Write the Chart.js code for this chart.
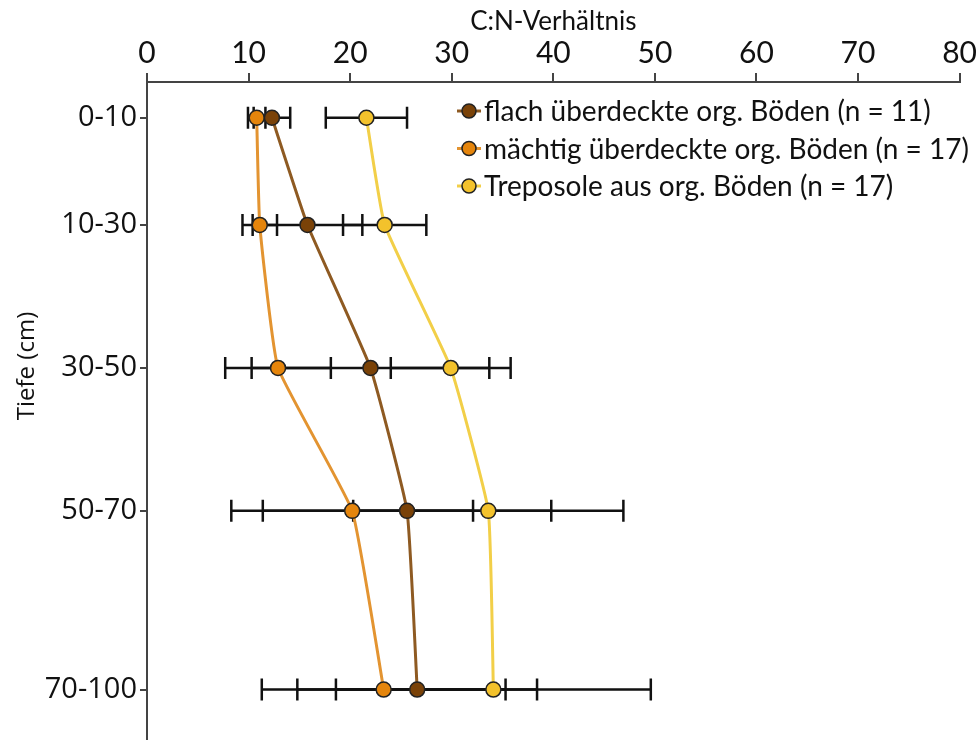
<!DOCTYPE html>
<html>
<head>
<meta charset="utf-8">
<script src="https://cdn.jsdelivr.net/npm/chart.js@4/dist/chart.umd.min.js"></script>
<style>
  html,body{margin:0;padding:0;background:#fff;overflow:hidden;}
  canvas{display:block;}
</style>
</head>
<body>
<canvas id="chart" width="979" height="740"></canvas>
<script>
// depth classes, drawn at their mid depth (cm)
const depthLabels = ['0-10', '10-30', '30-50', '50-70', '70-100'];
const depthMid = [5, 20, 40, 60, 85];
const xTicks = [0, 10, 20, 30, 40, 50, 60, 70, 80];

const flachCN = [12.3, 15.8, 22.0, 25.6, 26.6];
const flachErr = [1.8, 5.4, 11.7, 14.2, 11.8];
const maechtigCN = [10.8, 11.1, 12.9, 20.2, 23.3];
const maechtigErr = [0.86, 1.7, 5.2, 11.9, 12.0];
const trepoCN = [21.6, 23.4, 29.9, 33.6, 34.1];
const trepoErr = [4.0, 4.1, 5.9, 13.3, 15.5];

const names = ['flach überdeckte org. Böden (n = 11)', 'mächtig überdeckte org. Böden (n = 17)', 'Treposole aus org. Böden (n = 17)'];
const fills = ['#7a4208', '#e5850c', '#f3c22c'];
const lineCols = ['#8e5a22', '#e39431', '#f2cf48'];

const toPts = vals => vals.map((v, i) => ({x: v, y: depthMid[i]}));
const errs = [flachErr, maechtigErr, trepoErr];

const mkSet = (i, vals) => ({
  label: names[i], data: toPts(vals),
  borderColor: lineCols[i], backgroundColor: fills[i],
  borderWidth: 3, tension: 0.12,
  pointRadius: 7.5, pointBorderColor: '#222', pointBorderWidth: 1.5,
  pointBackgroundColor: fills[i]
});

// error bars under the lines and points
const errorBars = {
  id: 'errorBars',
  beforeDatasetsDraw(chart){
    const {ctx, scales:{x, y}} = chart;
    ctx.save();
    ctx.strokeStyle = '#111'; ctx.lineWidth = 2.5;
    chart.data.datasets.forEach((ds, di) => {
      ds.data.forEach((p, i) => {
        const e = errs[di][i];
        const x1 = x.getPixelForValue(p.x - e), x2 = x.getPixelForValue(p.x + e);
        const py = y.getPixelForValue(p.y);
        ctx.beginPath();
        ctx.moveTo(x1, py); ctx.lineTo(x2, py);
        ctx.moveTo(x1, py - 11); ctx.lineTo(x1, py + 11);
        ctx.moveTo(x2, py - 11); ctx.lineTo(x2, py + 11);
        ctx.stroke();
      });
    });
    ctx.restore();
  }
};

// legend inside the plot, top right; y axis title sits above the axis centre
const innerLegend = {
  id: 'innerLegend',
  afterDraw(chart){
    const {ctx, chartArea} = chart;
    ctx.save();
    // the depth axis runs on past the plot edge to the bottom of the figure
    ctx.strokeStyle = '#444'; ctx.lineWidth = 2;
    ctx.beginPath(); ctx.moveTo(chartArea.left, chartArea.bottom); ctx.lineTo(chartArea.left, chart.height); ctx.stroke();
    ctx.font = '28px Lato, sans-serif';
    ctx.textBaseline = 'middle';
    names.forEach((n, i) => {
      const ly = 111 + i * 37.5, lx = 469;
      ctx.strokeStyle = lineCols[i]; ctx.lineWidth = 3;
      ctx.beginPath(); ctx.moveTo(lx - 12, ly); ctx.lineTo(lx + 12, ly); ctx.stroke();
      ctx.beginPath(); ctx.arc(lx, ly, 7, 0, Math.PI * 2);
      ctx.fillStyle = fills[i]; ctx.fill();
      ctx.strokeStyle = '#222'; ctx.lineWidth = 1.5; ctx.stroke();
      ctx.fillStyle = '#111';
      ctx.fillText(n, lx + 15, ly + 1);
    });
    ctx.translate(27, 366);
    ctx.rotate(-Math.PI / 2);
    ctx.textAlign = 'center';
    ctx.font = '24px "Open Sans", sans-serif';
    ctx.fillText('Tiefe (cm)', 0, 0);
    ctx.restore();
  }
};

new Chart(document.getElementById('chart'), {
  type: 'line',
  data: {datasets: [mkSet(0, flachCN), mkSet(1, maechtigCN), mkSet(2, trepoCN)]},
  plugins: [errorBars, innerLegend],
  options: {
    responsive: false, animation: false,
    layout: {padding: {left: 0, right: 19, top: 0, bottom: 0}},
    plugins: {legend: {display: false}, tooltip: {enabled: false}},
    scales: {
      x: {
        type: 'linear', position: 'top', min: 0, max: 80,
        afterBuildTicks: ax => { ax.ticks = xTicks.map(v => ({value: v})); },
        afterFit: ax => { ax.height = 82; },
        grid: {drawOnChartArea: false, drawTicks: true, tickLength: 9, color: '#444', lineWidth: 2},
        border: {display: true, color: '#444', width: 2},
        ticks: {color: '#111', font: {family: 'Lato, sans-serif', size: 30}, padding: 2, maxRotation: 0},
        title: {display: true, text: 'C:N-Verhältnis', color: '#111', font: {family: 'Lato, sans-serif', size: 26}, padding: {top: 6, bottom: 0}}
      },
      y: {
        type: 'linear', reverse: true, min: 0, max: 90.8,
        afterBuildTicks: ax => { ax.ticks = depthMid.map(v => ({value: v})); },
        afterFit: ax => { ax.width = 147; ax.paddingTop = 0; ax.paddingBottom = 0; },
        grid: {drawOnChartArea: false, drawTicks: true, tickLength: 7, color: '#444', lineWidth: 2},
        border: {display: true, color: '#444', width: 2},
        ticks: {
          color: '#111', font: {family: 'Open Sans, sans-serif', size: 29}, padding: 3,
          callback: v => depthLabels[depthMid.indexOf(v)]
        }
      }
    }
  }
});
</script>
</body>
</html>
